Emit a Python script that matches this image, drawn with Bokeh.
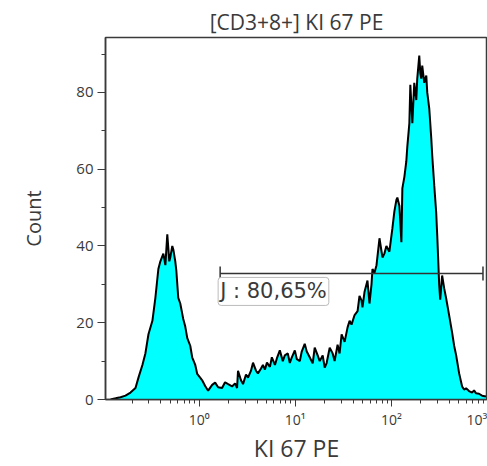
import math
from bokeh.plotting import figure
from bokeh.models import (Range1d, LogTicker, SingleIntervalTicker, Label, ColumnDataSource)
from bokeh.embed import file_html
from bokeh.resources import INLINE

# KI 67 PE channel position (log10) and event counts
log_ki67 = [
    -0.922, -0.870, -0.819, -0.767, -0.715, -0.663, -0.632, -0.591, -0.560, -0.528,
    -0.487, -0.456, -0.425, -0.404, -0.373, -0.352, -0.332, -0.311, -0.301, -0.280,
    -0.269, -0.249, -0.238, -0.218, -0.197, -0.166, -0.145, -0.124, -0.093, -0.073,
    -0.041, -0.021, 0.010, 0.031, 0.062, 0.093, 0.135, 0.166, 0.197, 0.238,
    0.269, 0.301, 0.342, 0.373, 0.394, 0.404, 0.435, 0.456, 0.487, 0.508,
    0.539, 0.560, 0.591, 0.611, 0.642, 0.663, 0.684, 0.705, 0.736, 0.756,
    0.788, 0.808, 0.839, 0.870, 0.891, 0.922, 0.943, 0.964, 0.995, 1.016,
    1.047, 1.067, 1.098, 1.119, 1.150, 1.181, 1.202, 1.233, 1.254, 1.285,
    1.306, 1.326, 1.358, 1.389, 1.409, 1.440, 1.461, 1.482, 1.513, 1.544,
    1.565, 1.585, 1.617, 1.648, 1.668, 1.689, 1.699, 1.720, 1.751, 1.772,
    1.793, 1.803, 1.824, 1.845, 1.876, 1.907, 1.927, 1.948, 1.979, 2.010,
    2.031, 2.052, 2.062, 2.083, 2.104, 2.114, 2.135, 2.155, 2.166, 2.187,
    2.197, 2.218, 2.238, 2.259, 2.269, 2.290, 2.301, 2.311, 2.321, 2.342,
    2.363, 2.373, 2.394, 2.415, 2.425, 2.446, 2.466, 2.477, 2.497, 2.508,
    2.528, 2.549, 2.570, 2.601, 2.632, 2.653, 2.674, 2.705, 2.736, 2.756,
    2.777, 2.808, 2.839, 2.860, 2.881, 2.912, 2.943, 2.984,
]
counts = [
    0.0, 0.3, 0.6, 1.0, 1.8, 3.0, 5.7, 9.0, 12.0, 17.0,
    20.5, 26.5, 34.0, 36.0, 38.0, 35.0, 43.0, 36.0, 37.0, 40.0,
    39.0, 36.0, 33.6, 26.5, 25.0, 21.0, 19.0, 16.0, 14.0, 11.0,
    9.0, 6.7, 5.7, 5.0, 3.5, 2.3, 3.8, 4.4, 3.2, 3.0,
    4.5, 4.0, 3.4, 4.2, 3.0, 7.5, 5.0, 4.0, 6.5, 5.7,
    7.5, 9.6, 7.5, 6.8, 8.0, 9.0, 7.8, 9.6, 8.5, 11.0,
    9.0, 10.7, 12.8, 10.0, 11.5, 12.0, 9.5, 11.0, 12.8, 10.5,
    10.0, 12.5, 14.5, 12.5, 11.0, 9.4, 13.5, 11.5, 10.0, 11.5,
    8.3, 9.5, 13.5, 12.0, 10.0, 14.3, 12.0, 17.0, 15.0, 18.8,
    20.5, 19.5, 22.0, 23.0, 27.0, 25.8, 24.0, 28.0, 31.0, 25.0,
    30.0, 34.0, 33.0, 35.0, 42.0, 37.0, 38.0, 40.0, 38.5, 44.5,
    49.0, 52.0, 52.6, 50.5, 41.0, 55.0, 58.0, 62.0, 66.0, 72.0,
    82.0, 72.0, 82.5, 78.0, 83.6, 89.6, 85.0, 83.6, 87.0, 82.5,
    84.4, 80.0, 75.8, 68.0, 63.5, 55.7, 48.7, 42.7, 30.0, 26.0,
    32.3, 29.0, 26.3, 21.9, 17.4, 14.0, 11.5, 6.8, 3.4, 2.6,
    2.9, 2.2, 1.8, 2.4, 1.6, 1.5, 1.0, 0.8,
]

# Gate J
gate_name = "J : 80,65%"
gate_log_start = 0.218
gate_log_end = 2.953
gate_level = 32.8
gate_label_log_x = 0.197
gate_label_top = 31.8

x_tick_labels = {0.1: "10⁻¹", 1: "10⁰", 10: "10¹", 100: "10²", 1000: "10³"}

ki67 = [10 ** v for v in log_ki67]
src = ColumnDataSource(dict(x=ki67, y=counts, y0=[0] * len(counts)))

FONT = "Open Sans"
DARK = "#3a3a3a"

p = figure(width=487, height=466, x_axis_type="log",
           x_range=Range1d(10 ** -0.975, 1000), y_range=Range1d(0, 94.3),
           output_backend="svg", toolbar_location=None,
           min_border_left=105, min_border_top=37, min_border_right=0, min_border_bottom=67,
           title="[CD3+8+] KI 67 PE")

p.title.align = "center"
p.title.text_font = FONT
p.title.text_font_size = "21px"
p.title.text_font_style = "normal"
p.title.text_color = DARK
p.title.standoff = 4

p.grid.visible = False
p.background_fill_color = "white"
p.border_fill_color = "white"
p.outline_line_color = DARK
p.outline_line_width = 1.5

p.varea(x="x", y1="y0", y2="y", source=src, fill_color="#00FFFF")
p.line(x="x", y="y", source=src, line_color="black", line_width=2)

# gate
p.segment(x0=[10 ** gate_log_start], x1=[10 ** gate_log_end], y0=[gate_level], y1=[gate_level],
          line_color="#333333", line_width=1.5)
p.scatter(x=[10 ** gate_log_start, 10 ** gate_log_end], y=[gate_level, gate_level],
          marker="dash", angle=math.pi / 2, size=14, line_color="#333333", line_width=1.5)
lab = Label(x=10 ** gate_label_log_x, y=gate_label_top, text=gate_name, anchor="top_left",
            text_font="DejaVu Sans", text_font_size="21px", text_color=DARK,
            background_fill_color="white", border_line_color="#bbbbbb", border_line_width=1,
            padding=2, border_radius=3)
p.add_layout(lab)

# axes
xa = p.xaxis[0]
xa.ticker = LogTicker(num_minor_ticks=10)
xa.major_label_overrides = x_tick_labels
xa.axis_label = "KI 67 PE"
ya = p.yaxis[0]
ya.ticker = SingleIntervalTicker(interval=20, num_minor_ticks=2)
ya.axis_label = "Count"
for ax in (xa, ya):
    ax.axis_line_color = DARK
    ax.axis_line_width = 1.5
    ax.major_tick_line_color = DARK
    ax.minor_tick_line_color = DARK
    ax.major_tick_in = 0
    ax.minor_tick_in = 0
    ax.major_label_text_font = FONT
    ax.major_label_text_color = DARK
    ax.axis_label_text_font = FONT
    ax.axis_label_text_font_style = "normal"
    ax.axis_label_text_color = DARK
xa.major_label_text_font_size = "14px"
ya.major_label_text_font_size = "15px"
xa.axis_label_text_font_size = "23px"
ya.axis_label_text_font_size = "20px"
xa.major_tick_out = 7
xa.minor_tick_out = 4
ya.major_tick_out = 8
ya.minor_tick_out = 4
xa.major_label_standoff = 3
ya.major_label_standoff = 4
xa.axis_label_standoff = 0
ya.axis_label_standoff = 26

open("out.html", "w").write(file_html(p, INLINE))
